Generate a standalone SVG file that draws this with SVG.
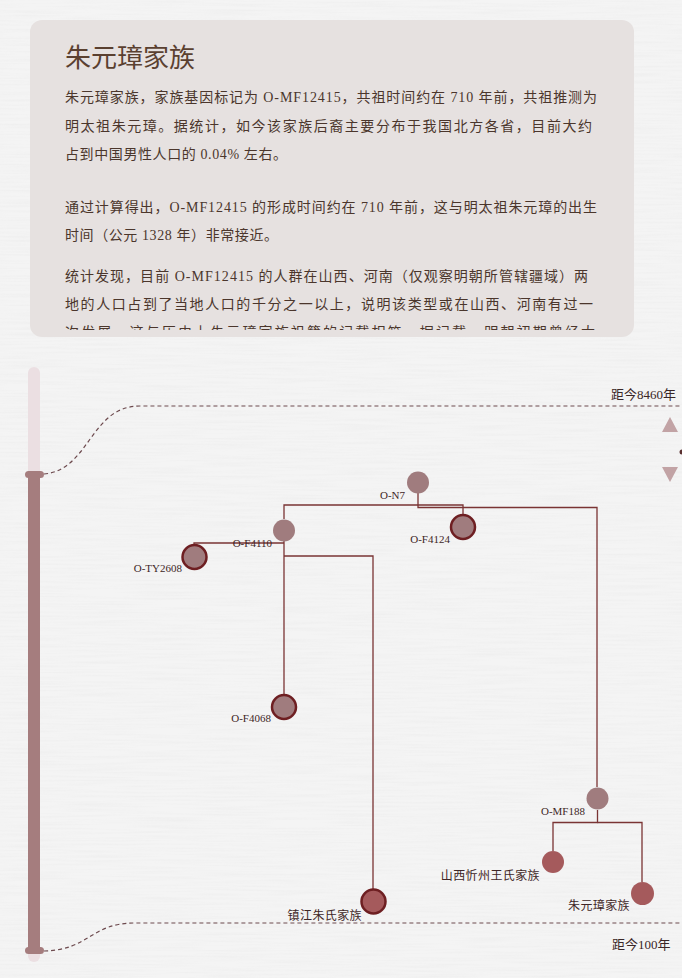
<svg xmlns="http://www.w3.org/2000/svg" width="682" height="978" viewBox="0 0 682 978">
<style>
.b{font-family:"Liberation Serif","Noto Sans CJK SC",serif;font-size:14px;fill:#4b362c}
.t{font-family:"Liberation Serif","Noto Sans CJK SC",serif;font-size:26px;fill:#5a4030}
.n{font-family:"Liberation Serif","Noto Sans CJK SC",serif;font-size:11px;fill:#3e2626;text-anchor:end}
.c{font-family:"Liberation Serif","Noto Sans CJK SC",serif;font-size:12px;fill:#3e2626;text-anchor:end;letter-spacing:0.4px}
.d{font-family:"Liberation Serif","Noto Sans CJK SC",serif;font-size:13px;fill:#3a2626}
.ln{fill:none;stroke:#7a3434;stroke-width:1.3}
.dash{fill:none;stroke:#6d4a4e;stroke-width:1.2;stroke-dasharray:4 3}
.in{fill:#a07c7e}
.ins{fill:#a07c7e;stroke:#6e1f22;stroke-width:2.5}
.lf{fill:#a55a5c}
.lfs{fill:#a55a5c;stroke:#6e1f22;stroke-width:2.5}
</style>
<defs>
<clipPath id="cardclip"><rect x="30" y="20" width="604" height="310"/></clipPath>
<filter id="paper" x="0" y="0" width="100%" height="100%">
<feTurbulence type="fractalNoise" baseFrequency="0.015 0.5" numOctaves="2" seed="3" result="noise"/>
<feColorMatrix in="noise" type="matrix" values="0 0 0 0 0.55  0 0 0 0 0.55  0 0 0 0 0.55  0 0 0 -0.9 0.55"/>
</filter>
</defs>
<rect x="0" y="0" width="682" height="978" fill="#f4f4f4"/>
<rect x="0" y="0" width="682" height="978" filter="url(#paper)" opacity="0.22"/>
<g id="card">
<rect x="30" y="20" width="604" height="317" rx="12" fill="#e6e1e0"/>
<text class="t" x="65" y="67">朱元璋家族</text>
<g clip-path="url(#cardclip)">
<text class="b" x="65" y="102" textLength="532" lengthAdjust="spacing">朱元璋家族，家族基因标记为 O-MF12415，共祖时间约在 710 年前，共祖推测为</text>
<text class="b" x="65" y="131" textLength="527" lengthAdjust="spacing">明太祖朱元璋。据统计，如今该家族后裔主要分布于我国北方各省，目前大约</text>
<text class="b" x="65" y="159" textLength="222" lengthAdjust="spacing">占到中国男性人口的 0.04% 左右。</text>
<text class="b" x="65" y="212" textLength="532" lengthAdjust="spacing">通过计算得出，O-MF12415 的形成时间约在 710 年前，这与明太祖朱元璋的出生</text>
<text class="b" x="65" y="240" textLength="213" lengthAdjust="spacing">时间（公元 1328 年）非常接近。</text>
<text class="b" x="65" y="281" textLength="523" lengthAdjust="spacing">统计发现，目前 O-MF12415 的人群在山西、河南（仅观察明朝所管辖疆域）两</text>
<text class="b" x="65" y="309" textLength="528" lengthAdjust="spacing">地的人口占到了当地人口的千分之一以上，说明该类型或在山西、河南有过一</text>
<text class="b" x="65" y="337" textLength="530" lengthAdjust="spacing">次发展，这与历史上朱元璋家族祖籍的记载相符，据记载，明朝初期曾经大</text>
</g>
</g>
<g id="timeline">
<rect x="28" y="367" width="12" height="595" rx="6" fill="#ebdfe2"/>
<rect x="28" y="474" width="12" height="477" fill="#a57d7e"/>
<rect x="25" y="471" width="19" height="7" rx="3.5" fill="#a57d7e"/>
<rect x="25" y="947" width="19" height="7" rx="3.5" fill="#a57d7e"/>
<path class="dash" d="M44,474 C90,470 90,406 140,406 L682,406"/>
<path class="dash" d="M44,951 C90,950 90,923 135,923 L682,923"/>
<text class="d" x="611" y="399">距今8460年</text>
<text class="d" x="612" y="949">距今100年</text>
<polygon points="670,417 678,432 662,432" fill="#c2a3a5"/>
<polygon points="662,467 678,467 670,482" fill="#c2a3a5"/>
<circle cx="682" cy="452" r="2.5" fill="#5a3030"/>
</g>
<g id="connectors">
<path class="ln" d="M418,493 V507.5 H597 V787"/>
<path class="ln" d="M418,505 H284 V519"/>
<path class="ln" d="M418,505 H463 V514"/>
<path class="ln" d="M284,541 V694"/>
<path class="ln" d="M284,543 H194 V544"/>
<path class="ln" d="M284,556 H373 V889"/>
<path class="ln" d="M597.5,810 V822.5 H553 V851"/>
<path class="ln" d="M597.5,822.5 H642 V882"/>
</g>
<g id="node-ON7"><circle class="in" cx="418" cy="482.5" r="11"/><text class="n" x="405" y="499">O-N7</text></g>
<g id="node-OF4124"><circle class="ins" cx="463" cy="527" r="12"/><text class="n" x="450" y="543">O-F4124</text></g>
<g id="node-OF4110"><circle class="in" cx="284" cy="530.5" r="11"/><text class="n" x="272" y="547">O-F4110</text></g>
<g id="node-OTY2608"><circle class="ins" cx="194.5" cy="557" r="12"/><text class="n" x="182" y="572">O-TY2608</text></g>
<g id="node-OF4068"><circle class="ins" cx="284" cy="707" r="12"/><text class="n" x="271" y="722">O-F4068</text></g>
<g id="node-zhenjiang"><circle class="lfs" cx="373.5" cy="901.5" r="12"/><text class="c" x="362" y="920">镇江朱氏家族</text></g>
<g id="node-OMF188"><circle class="in" cx="597.5" cy="798.5" r="11"/><text class="n" x="585" y="815">O-MF188</text></g>
<g id="node-shanxi"><circle class="lf" cx="553" cy="862" r="11"/><text class="c" x="540" y="880">山西忻州王氏家族</text></g>
<g id="node-zhu"><circle class="lf" cx="642.5" cy="893.5" r="11.5"/><text class="c" x="630" y="910">朱元璋家族</text></g>
</svg>
